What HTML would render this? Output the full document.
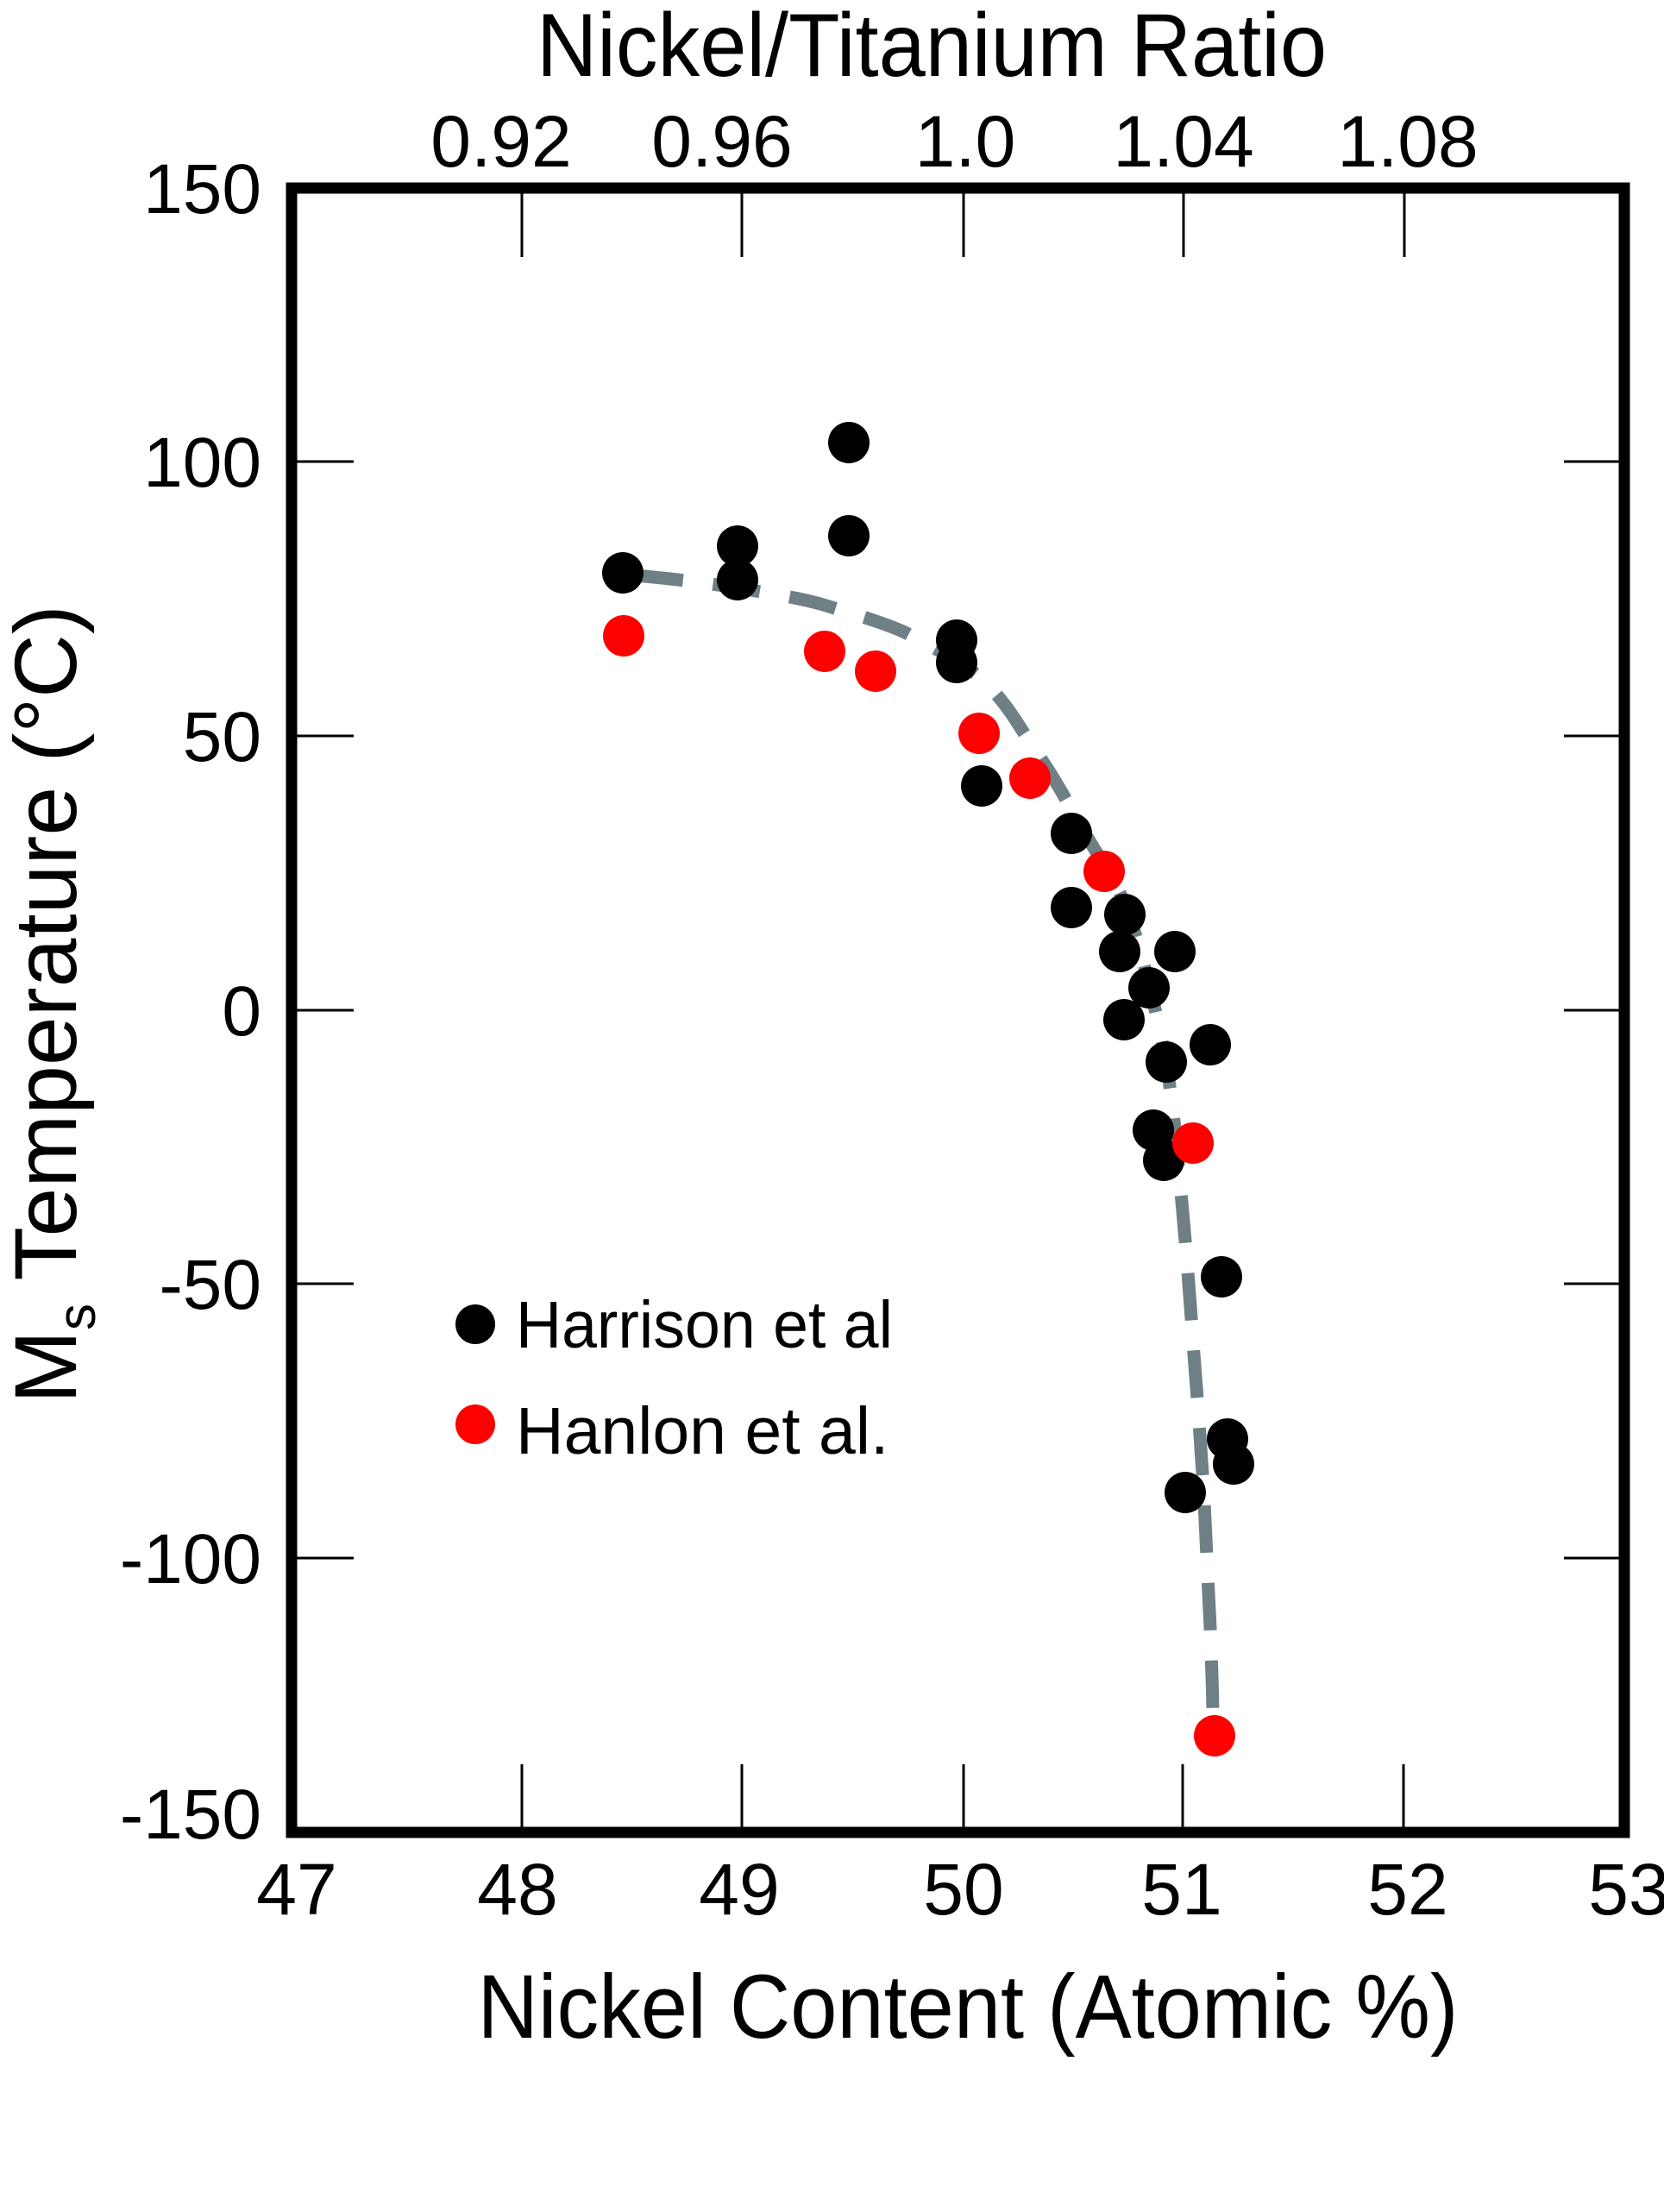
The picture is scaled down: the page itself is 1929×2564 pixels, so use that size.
<!DOCTYPE html>
<html><head><meta charset="utf-8"><style>html,body{margin:0;padding:0;background:#fff}svg{display:block}</style></head>
<body>
<svg width="1929" height="2564" viewBox="0 0 1929 2564" xmlns="http://www.w3.org/2000/svg" font-family="Liberation Sans, Arial, sans-serif">
<rect x="0" y="0" width="1929" height="2564" fill="#fff"/>
<g stroke="#000" stroke-width="3">
<line x1="605" y1="218" x2="605" y2="298"/><line x1="860" y1="218" x2="860" y2="298"/><line x1="1117" y1="218" x2="1117" y2="298"/><line x1="1372" y1="218" x2="1372" y2="298"/><line x1="1628" y1="218" x2="1628" y2="298"/>
<line x1="605" y1="2124" x2="605" y2="2045"/><line x1="860" y1="2124" x2="860" y2="2045"/><line x1="1117" y1="2124" x2="1117" y2="2045"/><line x1="1371" y1="2124" x2="1371" y2="2045"/><line x1="1627" y1="2124" x2="1627" y2="2045"/>
<line x1="338" y1="535" x2="410" y2="535"/><line x1="338" y1="853" x2="410" y2="853"/><line x1="338" y1="1171" x2="410" y2="1171"/><line x1="338" y1="1488" x2="410" y2="1488"/><line x1="338" y1="1806" x2="410" y2="1806"/>
<line x1="1883" y1="535" x2="1813" y2="535"/><line x1="1883" y1="853" x2="1813" y2="853"/><line x1="1883" y1="1171" x2="1813" y2="1171"/><line x1="1883" y1="1488" x2="1813" y2="1488"/><line x1="1883" y1="1806" x2="1813" y2="1806"/>
</g>
<rect x="338" y="218" width="1545" height="1906" fill="none" stroke="#000" stroke-width="13"/>
<path d="M737,667 C790,672 820,676 852,681 C895,688 925,693 951,700 C990,712 1020,720 1049,733 C1085,752 1110,765 1132,782 C1165,810 1180,840 1197,865 C1220,898 1232,920 1247,947 C1268,985 1283,1005 1296,1030 C1312,1065 1320,1095 1329,1129 C1342,1180 1348,1210 1354,1244 C1362,1300 1366,1350 1370,1393 C1376,1460 1380,1510 1383,1557 C1389,1630 1392,1680 1395,1722 C1399,1800 1401,1850 1403,1887 C1405,1940 1406,1970 1406,1994" fill="none" stroke="#6e8086" stroke-width="15" stroke-dasharray="55 35"/>
<g fill="#000">
<circle cx="722" cy="664" r="24"/><circle cx="855" cy="633" r="24"/><circle cx="855" cy="672" r="24"/><circle cx="984" cy="513" r="24"/><circle cx="984" cy="621" r="24"/><circle cx="1109" cy="742" r="24"/><circle cx="1109" cy="768" r="24"/><circle cx="1138" cy="911" r="24"/><circle cx="1242" cy="966" r="24"/><circle cx="1242" cy="1052" r="24"/><circle cx="1304" cy="1060" r="24"/><circle cx="1298" cy="1103" r="24"/><circle cx="1303" cy="1182" r="24"/><circle cx="1332" cy="1145" r="24"/><circle cx="1362" cy="1103" r="24"/><circle cx="1352" cy="1231" r="24"/><circle cx="1403" cy="1211" r="24"/><circle cx="1337" cy="1310" r="24"/><circle cx="1349" cy="1345" r="24"/><circle cx="1416" cy="1480" r="24"/><circle cx="1423" cy="1668" r="24"/><circle cx="1430" cy="1697" r="24"/><circle cx="1374" cy="1730" r="24"/>
<circle cx="551" cy="1535" r="23"/>
</g>
<g fill="#ff0000">
<circle cx="723" cy="737" r="24"/><circle cx="956" cy="755" r="24"/><circle cx="1015" cy="778" r="24"/><circle cx="1135" cy="850" r="24"/><circle cx="1194" cy="902" r="24"/><circle cx="1280" cy="1010" r="24"/><circle cx="1383" cy="1325" r="24"/><circle cx="1408" cy="2012" r="24"/>
<circle cx="551" cy="1651" r="23"/>
</g>
<text x="598" y="1562" font-size="77" textLength="437" lengthAdjust="spacingAndGlyphs">Harrison et al</text>
<text x="598" y="1685" font-size="77">Hanlon et al.</text>
<text x="1080" y="88" font-size="104" text-anchor="middle" textLength="916" lengthAdjust="spacingAndGlyphs">Nickel/Titanium Ratio</text>
<g font-size="84" text-anchor="middle">
<text x="581" y="193">0.92</text><text x="837" y="193">0.96</text><text x="1119" y="193">1.0</text><text x="1372" y="193">1.04</text><text x="1632" y="193">1.08</text>
</g>
<g font-size="82" text-anchor="end">
<text x="303" y="247">150</text><text x="303" y="564">100</text><text x="303" y="882">50</text><text x="303" y="1200">0</text><text x="303" y="1517">-50</text><text x="303" y="1835">-100</text><text x="303" y="2131">-150</text>
</g>
<g font-size="84" text-anchor="middle">
<text x="344" y="2219">47</text><text x="600" y="2219">48</text><text x="857" y="2219">49</text><text x="1117" y="2219">50</text><text x="1370" y="2219">51</text><text x="1632" y="2219">52</text><text x="1888" y="2219">53</text>
</g>
<text x="1122" y="2362" font-size="105" text-anchor="middle" textLength="1137" lengthAdjust="spacingAndGlyphs">Nickel Content (Atomic %)</text>
<text transform="translate(88,1627) rotate(-90)" font-size="102">M<tspan font-size="62" dy="22">s</tspan><tspan dy="-22"> Temperature (°C)</tspan></text>
</svg>
</body></html>
